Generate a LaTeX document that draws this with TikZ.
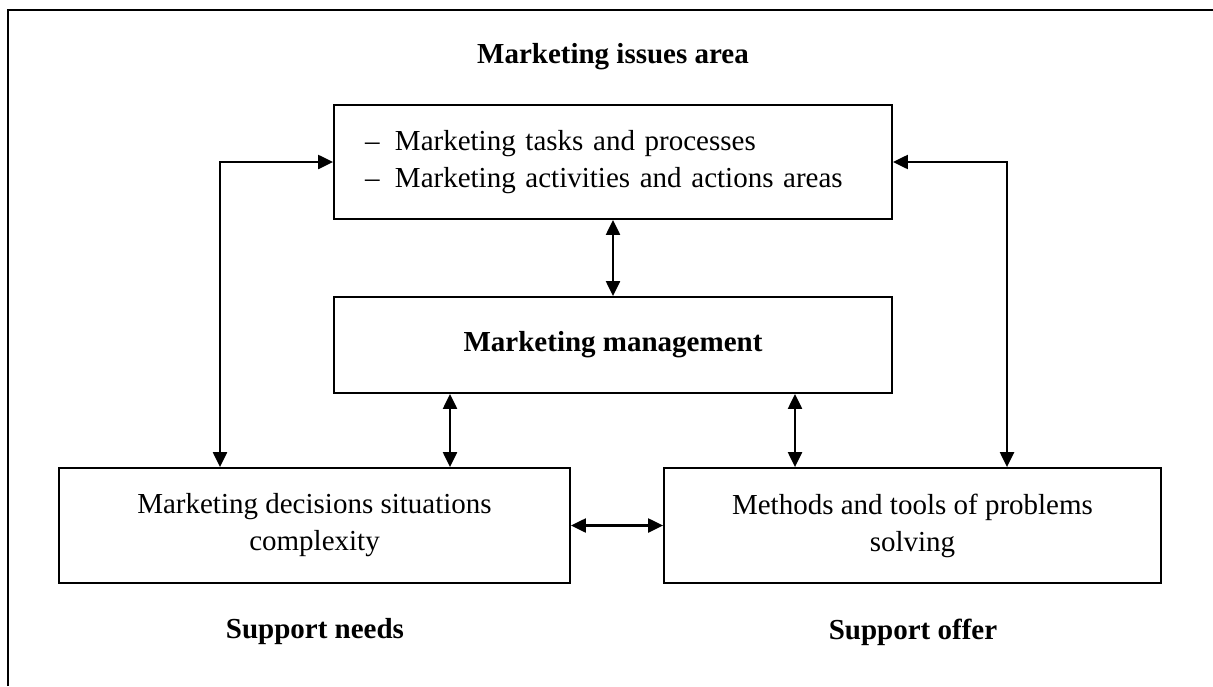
\documentclass[tikz,border=0pt]{standalone}
\usepackage{fontspec}
\setmainfont{Liberation Serif}
\usetikzlibrary{arrows.meta}
\begin{document}
\begin{tikzpicture}[x=1pt,y=-1pt,
  font=\fontsize{29}{37}\selectfont,
  box/.style={draw=black,line width=1.8pt,inner sep=0pt,align=center},
  link/.style={line width=2.2pt,{Triangle[length=15pt,width=14pt]}-{Triangle[length=15pt,width=14pt]}},
  caption/.style={font=\fontsize{29}{37}\selectfont\bfseries}]
  \useasboundingbox (0,0) rectangle (1213,686);
  % outer frame (top and left sides)
  \draw[line width=2.2pt] (8,686) -- (8,10) -- (1213,10);

  % title
  \node[caption] (title) at (613,57) {Marketing issues area};

  % boxes
  \node[box,text width=496pt,inner xsep=31pt,minimum height=114pt,align=left] (top) at (613,162)
    {\makebox[30pt][l]{–}Marketing tasks and processes\\
     \makebox[30pt][l]{–}Marketing activities and actions areas};
  \node[box,minimum width=558pt,minimum height=96pt,font=\fontsize{29}{37}\selectfont\bfseries] (mid) at (613,345)
    {Marketing management};
  \node[box,minimum width=511pt,minimum height=115pt] (left) at (314.5,525.5)
    {Marketing decisions situations\\complexity};
  \node[box,minimum width=497pt,minimum height=115pt] (right) at (912.5,525.5)
    {Methods and tools of problems\\solving};

  % captions under the bottom boxes
  \node[caption] (needs) at (315,632) {Support needs};
  \node[caption] (offer) at (913,632) {Support offer};

  % bend points of the outer loops
  \coordinate (lc) at (220,162);
  \coordinate (rc) at (1007,162);

  % connectors
  \draw[link] (top.west) -- (lc) -- (lc |- left.north);
  \draw[link] (top.east) -- (rc) -- (rc |- right.north);
  \draw[link] (top.south) -- (mid.north);
  \draw[link] (mid.south -| 450,0) -- (left.north -| 450,0);
  \draw[link] (mid.south -| 795,0) -- (right.north -| 795,0);
  \draw[link] (left.east) -- (right.west);
\end{tikzpicture}
\end{document}
